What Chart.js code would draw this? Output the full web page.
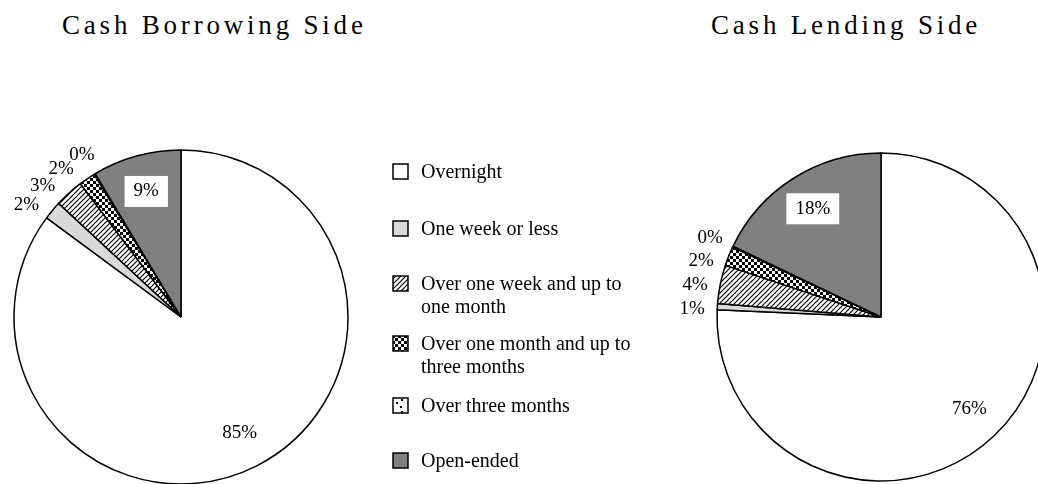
<!DOCTYPE html>
<html>
<head>
<meta charset="utf-8">
<script src="https://cdn.jsdelivr.net/npm/chart.js@4/dist/chart.umd.min.js"></script>
<style>
  html, body { margin: 0; padding: 0; background: #fff; }
  body { width: 1038px; height: 484px; overflow: hidden; position: relative; font-family: "Liberation Serif", "Times New Roman", serif; color: #000; }
  .title { position: absolute; top: 12px; font-size: 27px; line-height: 27px; letter-spacing: 3.8px; white-space: nowrap; }
  .pie { position: absolute; width: 440px; height: 440px; top: 97px; }
  .legend-row { position: absolute; left: 392px; font-size: 20px; line-height: 23px; }
  .legend-row canvas { position: absolute; left: 0; top: 3px; }
  .legend-row span { position: absolute; left: 29px; top: 0; white-space: nowrap; }
</style>
</head>
<body>
<div class="title" style="left:62px">Cash Borrowing Side</div>
<div class="title" style="left:711px">Cash Lending Side</div>
<div class="pie" style="left:-39px"><canvas id="borrowChart"></canvas></div>
<div class="pie" style="left:661px"><canvas id="lendChart"></canvas></div>
<div id="legend"></div>

<script>
// Maturity buckets, in legend order
const categories = [
    'Overnight',
    'One week or less',
    'Over one week and up to one month',
    'Over one month and up to three months',
    'Over three months',
    'Open-ended'
];
const legendLines = [
    ['Overnight'],
    ['One week or less'],
    ['Over one week and up to', 'one month'],
    ['Over one month and up to', 'three months'],
    ['Over three months'],
    ['Open-ended']
];

// Shares in percent
const borrowingShares = [85.2, 1.8, 2.8, 1.6, 0.1, 8.6];
const lendingShares = [75.7, 0.6, 3.8, 1.9, 0.1, 17.9];

// Fills for each bucket
function makePattern(kind) {
    const c = document.createElement('canvas');
    const g = c.getContext('2d');
    if (kind === 'hatch') {
        c.width = c.height = 5;
        g.fillStyle = '#fff';
        g.fillRect(0, 0, 5, 5);
        g.strokeStyle = '#000';
        g.lineWidth = 1.2;
        g.beginPath();
        g.moveTo(-1, 6); g.lineTo(6, -1);
        g.moveTo(-1, 1); g.lineTo(1, -1);
        g.moveTo(4, 6); g.lineTo(6, 4);
        g.stroke();
    } else if (kind === 'check') {
        c.width = c.height = 6;
        g.fillStyle = '#fff';
        g.fillRect(0, 0, 6, 6);
        g.fillStyle = '#000';
        g.fillRect(0, 0, 3, 3);
        g.fillRect(3, 3, 3, 3);
    } else {
        c.width = c.height = 12;
        g.fillStyle = '#fff';
        g.fillRect(0, 0, 12, 12);
        g.fillStyle = '#000';
        g.fillRect(4, 5, 2, 2);
        g.fillRect(8, 9, 2, 2);
        g.fillRect(9, 2, 2, 2);
    }
    return g.createPattern(c, 'repeat');
}

const fills = ['#ffffff', '#d9d9d9', makePattern('hatch'), makePattern('check'), makePattern('dots'), '#808080'];
const boxedIndex = 5;

const pieLabels = {
    id: 'pieLabels',
    afterDatasetsDraw(chart) {
        const ctx = chart.ctx;
        const arcs = chart.getDatasetMeta(0).data;
        const values = chart.data.datasets[0].data;
        const outside = [];
        ctx.save();
        ctx.font = '19px "Liberation Serif"';
        ctx.textAlign = 'center';
        ctx.textBaseline = 'middle';
        arcs.forEach((arc, i) => {
            const mid = (arc.startAngle + arc.endAngle) / 2;
            const text = Math.round(values[i]) + '%';
            if (values[i] < 5) {
                outside.push({ mid, text, arc });
                return;
            }
            const r = arc.outerRadius * 0.78;
            const x = arc.x + Math.cos(mid) * r;
            const y = arc.y + Math.sin(mid) * r;
            if (i === boxedIndex) {
                const w = ctx.measureText(text).width + 18;
                ctx.fillStyle = '#fff';
                ctx.fillRect(x - w / 2, y - 15.5, w, 31);
            }
            ctx.fillStyle = '#000';
            ctx.fillText(text, x, y);
        });
        // small slices go outside, spread so they don't collide
        outside.sort((a, b) => b.mid - a.mid);
        const minSep = 7.5 * Math.PI / 180;
        for (let k = 1; k < outside.length; k++) {
            if (outside[k - 1].mid - outside[k].mid < minSep) {
                outside[k].mid = outside[k - 1].mid - minSep;
            }
        }
        ctx.fillStyle = '#000';
        outside.forEach(l => {
            const r = l.arc.outerRadius + 25;
            ctx.fillText(l.text, l.arc.x + Math.cos(l.mid) * r, l.arc.y + Math.sin(l.mid) * r + 2);
        });
        ctx.restore();
    }
};

function drawPie(id, shares, radius) {
    new Chart(document.getElementById(id), {
        type: 'pie',
        data: {
            labels: categories,
            datasets: [{
                data: shares,
                backgroundColor: fills,
                borderColor: '#000',
                borderWidth: 1.5,
                radius: radius
            }]
        },
        options: {
            responsive: true,
            maintainAspectRatio: false,
            animation: false,
            layout: { padding: 0 },
            plugins: {
                legend: { display: false },
                tooltip: { enabled: false }
            }
        },
        plugins: [pieLabels]
    });
}

drawPie('borrowChart', borrowingShares, 167);
drawPie('lendChart', lendingShares, 164);

// Legend between the two pies
const legendTops = [160, 217, 272, 332, 394, 449];
const legend = document.getElementById('legend');
categories.forEach((cat, i) => {
    const row = document.createElement('div');
    row.className = 'legend-row';
    row.style.top = legendTops[i] + 'px';
    const sw = document.createElement('canvas');
    sw.width = 17;
    sw.height = 17;
    const g = sw.getContext('2d');
    g.fillStyle = fills[i];
    g.fillRect(1, 1, 15, 15);
    g.strokeStyle = '#000';
    g.lineWidth = 1.5;
    g.strokeRect(1, 1, 15, 15);
    const label = document.createElement('span');
    label.innerHTML = legendLines[i].join('<br>');
    row.appendChild(sw);
    row.appendChild(label);
    legend.appendChild(row);
});
</script>
</body>
</html>
